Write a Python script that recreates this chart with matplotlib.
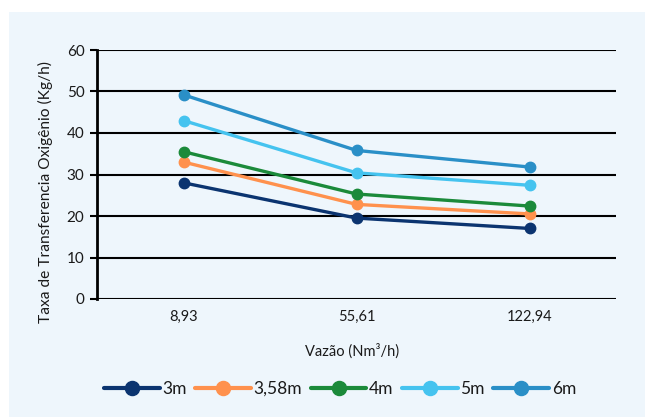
import matplotlib
matplotlib.use("Agg")
import matplotlib.pyplot as plt
from matplotlib.patches import Rectangle

plt.rcParams['font.family'] = ['Lato', 'DejaVu Sans']

categories = ["8,93", "55,61", "122,94"]
series_names = ["3m", "3,58m", "4m", "5m", "6m"]
values_3m = [28.0, 19.5, 17.0]
values_358m = [33.0, 22.8, 20.5]
values_4m = [35.5, 25.3, 22.4]
values_5m = [43.0, 30.4, 27.4]
values_6m = [49.2, 35.8, 31.8]
y_ticks = [0, 10, 20, 30, 40, 50, 60]

series_values = [values_3m, values_358m, values_4m, values_5m, values_6m]
colors = ["#0B3470", "#FF914D", "#1B8A3A", "#45C3EF", "#2A8FC7"]

bg = "#EEF6FC"
fig = plt.figure(figsize=(6.45, 4.17), dpi=100)
fig.patch.set_facecolor("white")
fig.patches.append(Rectangle((9 / 645, 0), 1 - 9 / 645, 1 - 12 / 417,
                             transform=fig.transFigure, facecolor=bg,
                             edgecolor="none", zorder=-10))

ax = fig.add_axes([97 / 645, 1 - 299 / 417, (616 - 97) / 645, (299 - 50) / 417])
ax.set_facecolor(bg)

x = list(range(len(categories)))
for name, vals, c in zip(series_names, series_values, colors):
    ax.plot(x, vals, color=c, lw=2.4, marker="o", ms=7.5, label=name,
            solid_capstyle="round", zorder=3)

ax.set_xlim(-0.5, len(categories) - 0.5)
ax.set_ylim(0, 60)
ax.set_yticks(y_ticks)
ax.set_xticks(x)
ax.set_xticklabels(categories)
ax.yaxis.grid(True, color="black", lw=1.5)
ax.set_axisbelow(True)
for s in ["top", "right", "bottom"]:
    ax.spines[s].set_visible(False)
ax.spines["left"].set_linewidth(2)
ax.tick_params(axis="y", length=5, width=1.5, labelsize=11, pad=4, colors="black")
ax.tick_params(axis="x", length=0, labelsize=10.5, pad=8)
for lbl in ax.get_yticklabels() + ax.get_xticklabels():
    lbl.set_color("#1a1a1a")

fig.text(45 / 645, 1 - 192 / 417, "Taxa de Transferencia Oxigênio (Kg/h)",
         rotation=90, ha="center", va="center", fontsize=11.2, color="#1a1a1a")
fig.text(352 / 645, 1 - 351 / 417, "Vazão (Nm³/h)", ha="center", va="center",
         fontsize=10.5, color="#1a1a1a")

handles, labels = ax.get_legend_handles_labels()
leg = fig.legend(handles, labels, loc="center", bbox_to_anchor=(340 / 645, 1 - 389 / 417),
                 ncol=5, frameon=False, fontsize=12.5, handlelength=3.2,
                 handletextpad=0.15, columnspacing=0.5, markerscale=1.35)
for t in leg.get_texts():
    t.set_color("#1a1a1a")
for h in leg.legend_handles:
    h.set_linewidth(3)

fig.savefig("out.png", dpi=100, facecolor=fig.get_facecolor())
